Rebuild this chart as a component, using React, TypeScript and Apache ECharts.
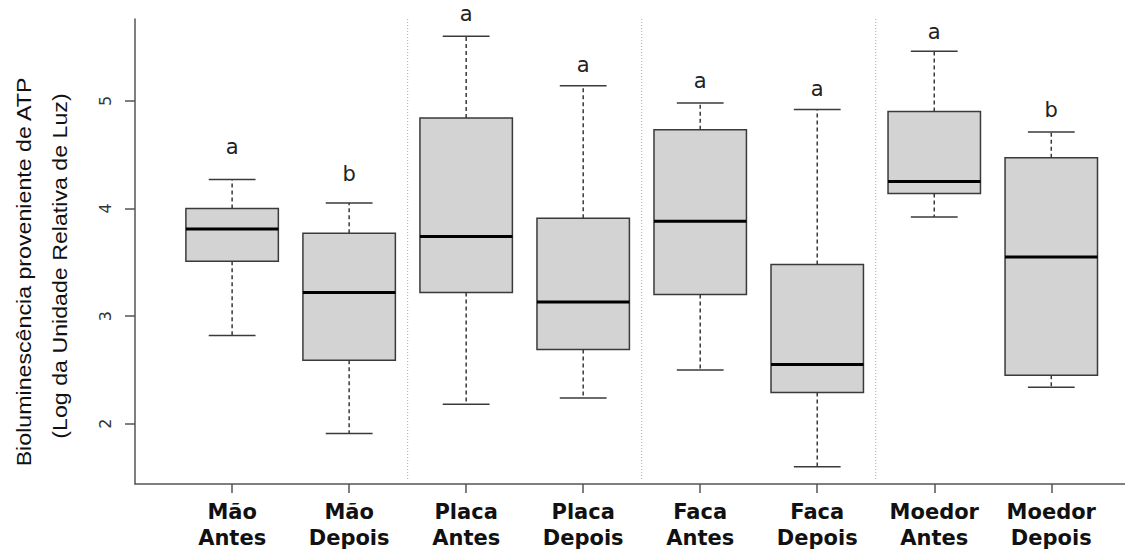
import React, { useEffect, useRef } from "react";
import * as echarts from "echarts";

const categories = [
  "Mão\nAntes",
  "Mão\nDepois",
  "Placa\nAntes",
  "Placa\nDepois",
  "Faca\nAntes",
  "Faca\nDepois",
  "Moedor\nAntes",
  "Moedor\nDepois",
];
const lowerWhisker = [2.82, 1.91, 2.18, 2.24, 2.5, 1.6, 3.92, 2.34];
const q1 = [3.51, 2.59, 3.22, 2.69, 3.2, 2.29, 4.14, 2.45];
const median = [3.81, 3.22, 3.74, 3.13, 3.88, 2.55, 4.25, 3.55];
const q3 = [4.0, 3.77, 4.84, 3.91, 4.73, 3.48, 4.9, 4.47];
const upperWhisker = [4.27, 4.05, 5.6, 5.14, 4.98, 4.92, 5.46, 4.71];
const letters = ["a", "b", "a", "a", "a", "a", "a", "b"];
const letterY = [4.57, 4.32, 5.81, 5.33, 5.18, 5.11, 5.64, 4.91];
const separators = [2.5, 4.5, 6.5];
const yTicks = [2, 3, 4, 5];
const xPositions = categories.map((_, i) => i + 1);

const Y_MIN = 1.44;
const Y_MAX = 5.76;

export default function App() {
  const ref = useRef<HTMLDivElement>(null);
  useEffect(() => {
    if (!ref.current) return;
    const chart = echarts.init(ref.current, undefined, { renderer: "svg" });
    const boxData = xPositions.map((x, i) => [
      x,
      lowerWhisker[i],
      q1[i],
      median[i],
      q3[i],
      upperWhisker[i],
    ]);
    const stroke = "#3a3a3a";
    chart.setOption({
      animation: false,
      backgroundColor: "#ffffff",
      grid: {
        left: 135,
        right: 0,
        top: 19,
        bottom: 69,
        containLabel: false,
        outerBoundsMode: "none",
      },
      xAxis: {
        type: "value",
        min: 0.17,
        max: 8.63,
        splitLine: { show: false },
        axisLine: { show: true, lineStyle: { color: "#555", width: 1.5 } },
        axisTick: {
          show: true,
          customValues: xPositions,
          length: 9,
          lineStyle: { color: "#555", width: 1.5 },
        },
        axisLabel: {
          customValues: xPositions,
          formatter: (v: number) => categories[Math.round(v) - 1] ?? "",
          fontFamily: "DejaVu Sans",
          fontWeight: "bold",
          fontSize: 21,
          lineHeight: 26,
          color: "#111",
          margin: 15,
        },
      },
      yAxis: {
        type: "value",
        min: Y_MIN,
        max: Y_MAX,
        splitLine: { show: false },
        axisLine: { show: true, lineStyle: { color: "#555", width: 1.5 } },
        axisTick: {
          show: true,
          customValues: yTicks,
          length: 10,
          lineStyle: { color: "#555", width: 1.5 },
        },
        axisLabel: {
          customValues: yTicks,
          rotate: 90,
          fontFamily: "DejaVu Sans",
          fontSize: 16,
          color: "#333",
          margin: 22,
        },
      },
      graphic: [
        {
          type: "text",
          x: 24,
          y: 272,
          rotation: Math.PI / 2,
          scaleX: 1.16,
          style: {
            text: "Bioluminescência proveniente de ATP",
            fontFamily: "Liberation Sans",
            fontSize: 20,
            fill: "#111",
            align: "center",
            verticalAlign: "middle",
          },
        },
        {
          type: "text",
          x: 60,
          y: 266,
          rotation: Math.PI / 2,
          scaleX: 1.16,
          style: {
            text: "(Log da Unidade Relativa de Luz)",
            fontFamily: "Liberation Sans",
            fontSize: 20,
            fill: "#111",
            align: "center",
            verticalAlign: "middle",
          },
        },
      ],
      series: [
        {
          type: "custom",
          name: "sep",
          data: separators.map((s) => [s]),
          silent: true,
          renderItem: (params: any, api: any) => {
            const x = api.value(0);
            const a = api.coord([x, Y_MAX]);
            const b = api.coord([x, Y_MIN + 0.03]);
            return {
              type: "line",
              shape: { x1: a[0], y1: a[1], x2: b[0], y2: b[1] },
              style: { stroke: "#aaa", lineWidth: 1, lineDash: [1, 2] },
            };
          },
        },
        {
          type: "custom",
          name: "box",
          data: boxData,
          silent: true,
          renderItem: (params: any, api: any) => {
            const x = api.value(0);
            const lo = api.coord([x, api.value(1)]);
            const b1 = api.coord([x, api.value(2)]);
            const md = api.coord([x, api.value(3)]);
            const b3 = api.coord([x, api.value(4)]);
            const hi = api.coord([x, api.value(5)]);
            const bw = api.size([0.79, 0])[0];
            const cw = api.size([0.4, 0])[0];
            const cx = lo[0];
            const dash = { stroke, lineWidth: 1.5, lineDash: [4, 3] };
            const solid = { stroke, lineWidth: 1.5 };
            return {
              type: "group",
              children: [
                { type: "line", shape: { x1: cx, y1: b3[1], x2: cx, y2: hi[1] }, style: dash },
                { type: "line", shape: { x1: cx, y1: b1[1], x2: cx, y2: lo[1] }, style: dash },
                { type: "line", shape: { x1: cx - cw / 2, y1: hi[1], x2: cx + cw / 2, y2: hi[1] }, style: solid },
                { type: "line", shape: { x1: cx - cw / 2, y1: lo[1], x2: cx + cw / 2, y2: lo[1] }, style: solid },
                {
                  type: "rect",
                  shape: { x: cx - bw / 2, y: b3[1], width: bw, height: b1[1] - b3[1] },
                  style: { fill: "#d3d3d3", stroke, lineWidth: 1.5 },
                },
                {
                  type: "line",
                  shape: { x1: cx - bw / 2, y1: md[1], x2: cx + bw / 2, y2: md[1] },
                  style: { stroke: "#000", lineWidth: 3 },
                },
              ],
            };
          },
        },
        {
          type: "custom",
          name: "letters",
          data: xPositions.map((x, i) => [x, letterY[i]]),
          silent: true,
          clip: false,
          renderItem: (params: any, api: any) => {
            const p = api.coord([api.value(0), api.value(1)]);
            return {
              type: "text",
              x: p[0],
              y: p[1],
              style: {
                text: letters[params.dataIndex],
                fontFamily: "DejaVu Sans",
                fontSize: 21,
                fill: "#222",
                align: "center",
                verticalAlign: "middle",
              },
            };
          },
        },
      ],
    });
    return () => chart.dispose();
  }, []);
  return (
    <div
      ref={ref}
      style={{ position: "fixed", left: 0, top: 0, width: 1125, height: 553 }}
    />
  );
}
